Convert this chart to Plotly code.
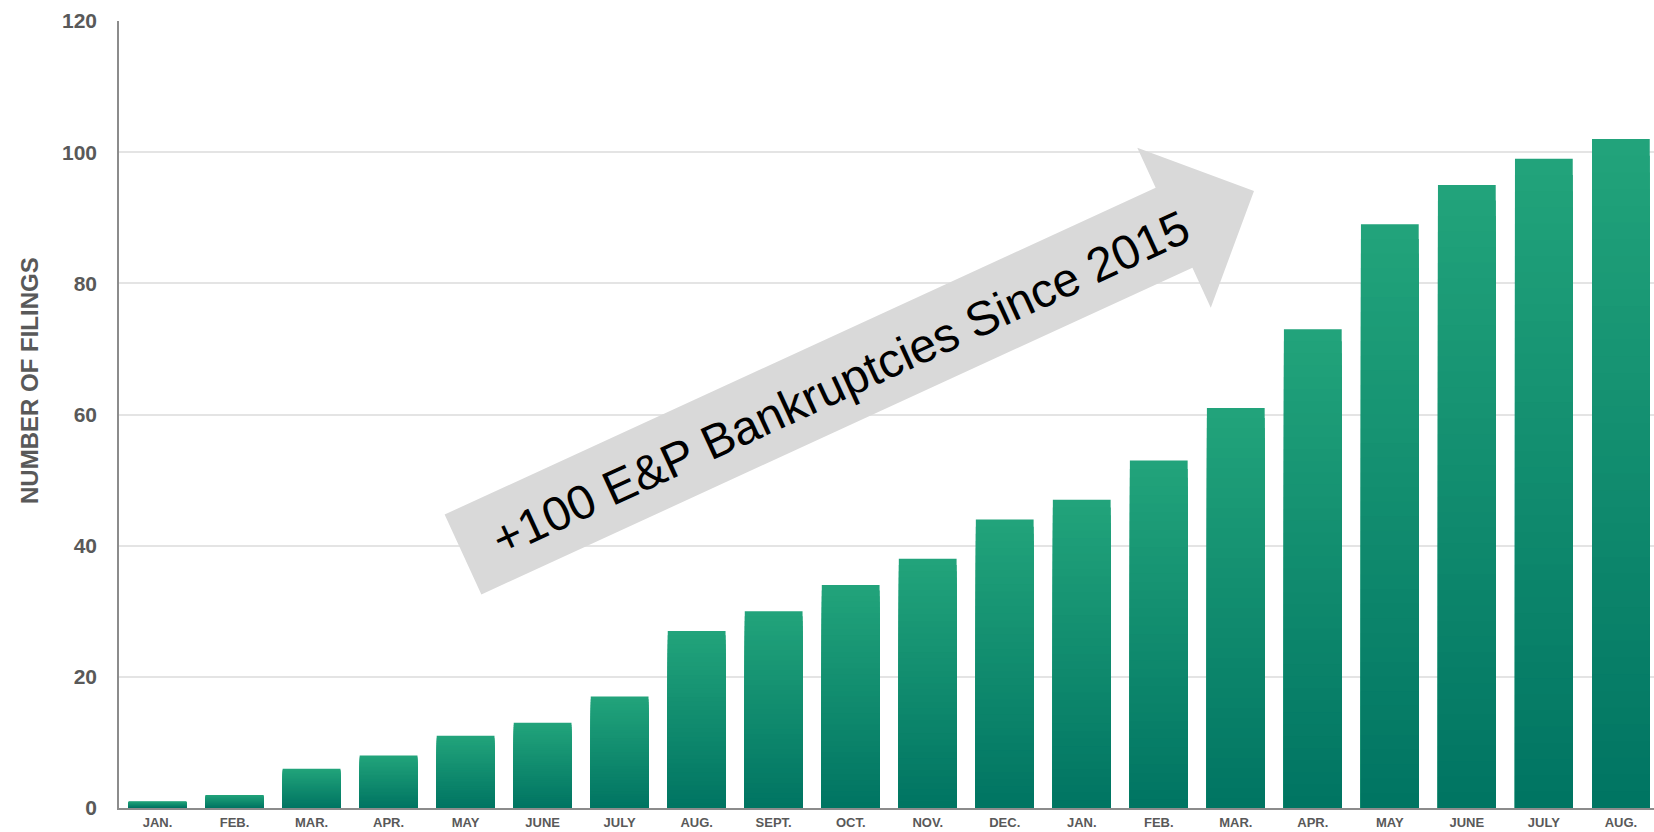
import plotly.graph_objects as go
import math

# ---------------- data ----------------
months = ["JAN.", "FEB.", "MAR.", "APR.", "MAY", "JUNE", "JULY", "AUG.", "SEPT.", "OCT.",
          "NOV.", "DEC.", "JAN.", "FEB.", "MAR.", "APR.", "MAY", "JUNE", "JULY", "AUG."]
filings = [1, 2, 6, 8, 11, 13, 17, 27, 30, 34, 38, 44, 47, 53, 61, 73, 89, 95, 99, 102]
y_ticks = [0, 20, 40, 60, 80, 100, 120]
y_title = "NUMBER OF FILINGS"
arrow_text = "+100 E&P Bankruptcies Since 2015"

# ---------------- layout constants ----------------
W, H = 1654, 832
L, R, T, B = 119, 0, 21, 24
PW, PH = W - L - R, H - T - B

TOP_COL = (34, 164, 123)
BOT_COL = (0, 116, 98)
N_STEPS = 40

LABEL_GRAY = "#595959"
FONT = "Liberation Sans, Arial, sans-serif"


def px2paper(x, y):
    return ((x - L) / PW, (H - B - y) / PH)


x_idx = list(range(len(filings)))

fig = go.Figure()

# gradient bars: overlayed bars each from 0, successively shorter & darker
for k in range(N_STEPS):
    frac = (N_STEPS - k) / N_STEPS
    t = (k + 0.5) / N_STEPS
    col = tuple(round(TOP_COL[i] + (BOT_COL[i] - TOP_COL[i]) * t) for i in range(3))
    fig.add_trace(go.Bar(
        x=x_idx,
        y=[v * frac for v in filings],
        width=0.75,
        marker=dict(color="rgb(%d,%d,%d)" % col, line=dict(width=0)),
        showlegend=False,
        hoverinfo="skip" if k > 0 else None,
    ))

# ---------------- block arrow (pixel geometry -> paper) ----------------
ARROW_TAIL = (463, 554.5)
ARROW_TIP = (1254, 191)
SHAFT_W = 88
HEAD_W = 176
HEAD_LEN = 88

dx, dy = ARROW_TIP[0] - ARROW_TAIL[0], ARROW_TIP[1] - ARROW_TAIL[1]
ln = math.hypot(dx, dy)
ux, uy = dx / ln, dy / ln
nx, ny = -uy, ux
neck = (ARROW_TIP[0] - HEAD_LEN * ux, ARROW_TIP[1] - HEAD_LEN * uy)


def off(p, s):
    return (p[0] + s * nx, p[1] + s * ny)


pts = [off(ARROW_TAIL, -SHAFT_W / 2), off(neck, -SHAFT_W / 2), off(neck, -HEAD_W / 2),
       ARROW_TIP, off(neck, HEAD_W / 2), off(neck, SHAFT_W / 2), off(ARROW_TAIL, SHAFT_W / 2)]
pp = [px2paper(*p) for p in pts]
path = "M " + " L ".join("%.5f,%.5f" % p for p in pp) + " Z"
fig.add_shape(type="path", path=path, xref="paper", yref="paper",
              fillcolor="#d9d9d9", line=dict(width=0), layer="above")

angle = math.degrees(math.atan2(-dy, dx))
tx, ty = px2paper(840, 383)
fig.add_annotation(x=tx, y=ty, xref="paper", yref="paper", text=arrow_text,
                   showarrow=False, textangle=-angle, xanchor="center", yanchor="middle",
                   font=dict(family=FONT, size=48, color="#000000"))

# y title
ax_, ay_ = px2paper(29, 381)
fig.add_annotation(x=ax_, y=ay_, xref="paper", yref="paper", text="<b>%s</b>" % y_title,
                   showarrow=False, textangle=-90, xanchor="center", yanchor="middle",
                   font=dict(family=FONT, size=24, color=LABEL_GRAY))

fig.update_layout(
    width=W, height=H,
    margin=dict(l=L, r=R, t=T, b=B, autoexpand=False),
    paper_bgcolor="white", plot_bgcolor="white",
    barmode="overlay",
    showlegend=False,
    font=dict(family=FONT),
)
fig.update_xaxes(
    range=[-0.5, 19.43],
    tickmode="array", tickvals=x_idx, ticktext=["<b>%s</b>" % m for m in months],
    tickfont=dict(family=FONT, size=13, color=LABEL_GRAY),
    showline=True, linecolor="#8c8c8c", linewidth=1.5,
    showgrid=False, zeroline=False, ticks="", ticklabelstandoff=2,
    automargin=False, fixedrange=True,
)
fig.update_yaxes(
    range=[0, 120],
    tickmode="array", tickvals=y_ticks, ticktext=["<b>%d</b>" % v for v in y_ticks],
    tickfont=dict(family=FONT, size=21, color=LABEL_GRAY),
    showline=True, linecolor="#8c8c8c", linewidth=1.5,
    showgrid=True, gridcolor="#e4e4e4", gridwidth=1.5,
    zeroline=False, ticks="", ticklabelstandoff=16,
    automargin=False, fixedrange=True,
)

fig.write_html("out.html", config={"displayModeBar": False},
               post_script="document.body.style.margin='0';document.body.style.overflow='hidden';")
